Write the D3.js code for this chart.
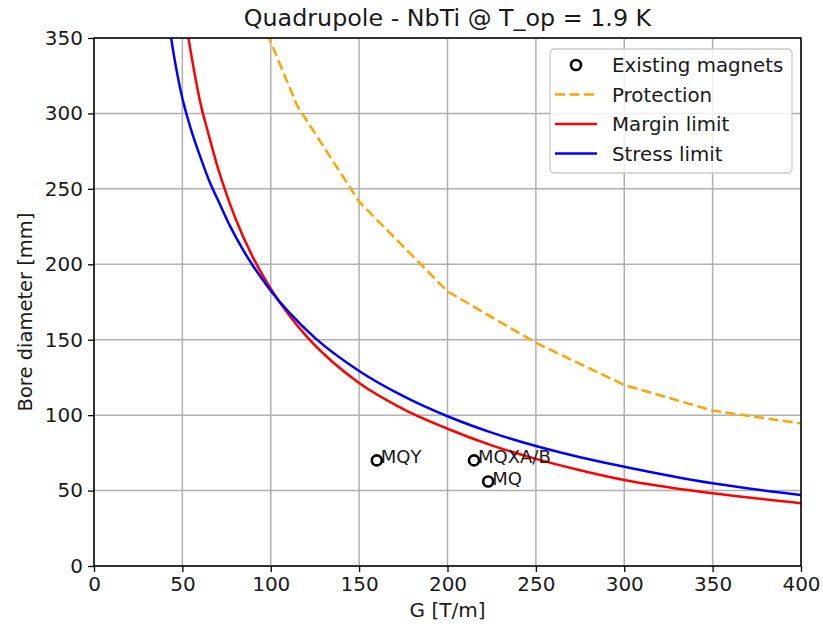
<!DOCTYPE html>
<html>
<head>
  <meta charset="utf-8">
  <style>
    * { margin: 0; padding: 0; box-sizing: border-box; }
    body { background: #fff; font-family: "DejaVu Sans", sans-serif; }
    svg { display: block; }
  </style>
</head>
<body>
  <div id="chart"></div>
  <script src="https://cdn.jsdelivr.net/npm/d3@7"></script>
  <script>
    // values
    const protectionG = [98, 115, 150, 200, 250, 300, 350, 400];
    const protectionD = [353, 305, 241.5, 182, 148, 120, 103, 94.5];

    const marginG = [50, 55, 60, 65, 70, 75, 80, 90, 100, 110, 120, 135, 150, 175, 200, 225, 250, 275, 300, 350, 400];
    const marginD = [374, 339, 308, 285.4, 264.3, 246.3, 230.5, 204.4, 183.8, 166.8, 152.5, 135.2, 121.3, 104, 91, 80, 71, 63.5, 57, 48.2, 41.6];

    const stressG = [42, 45, 50, 55, 60, 66, 70, 77, 85, 90, 100, 110, 125, 150, 175, 200, 225, 250, 275, 300, 350, 400];
    const stressD = [363, 340, 310, 289, 271.7, 253, 242.9, 225.3, 208.2, 198.9, 182.5, 168.6, 151.2, 129.3, 112.6, 99.25, 88.4, 79.5, 72.1, 65.8, 54.8, 47.1];

    const magnetNames = ['MQY', 'MQXA/B', 'MQ'];
    const magnetG = [160, 215, 223];
    const magnetD = [70, 70, 56];

    const xTicks = [0, 50, 100, 150, 200, 250, 300, 350, 400];
    const yTicks = [0, 50, 100, 150, 200, 250, 300, 350];
    const legendLabels = ['Existing magnets', 'Protection', 'Margin limit', 'Stress limit'];

    (function() {
      const width = 823, height = 630;
      const pLeft = 94, pRight = 801, pTop = 38, pBottom = 566;

      const x = d3.scaleLinear().domain([0, 400]).range([pLeft, pRight]);
      const y = d3.scaleLinear().domain([0, 350]).range([pBottom, pTop]);

      const svg = d3.select('#chart').append('svg')
        .attr('width', width).attr('height', height)
        .attr('font-family', 'DejaVu Sans, sans-serif');

      svg.append('defs').append('clipPath').attr('id', 'plot')
        .append('rect').attr('x', pLeft).attr('y', pTop)
        .attr('width', pRight - pLeft).attr('height', pBottom - pTop);

      // grid
      const grid = svg.append('g');
      xTicks.forEach(function(t) {
        grid.append('line').attr('x1', x(t)).attr('x2', x(t)).attr('y1', pTop).attr('y2', pBottom)
          .attr('stroke', '#b0b0b0').attr('stroke-width', 1.5);
      });
      yTicks.forEach(function(t) {
        grid.append('line').attr('x1', pLeft).attr('x2', pRight).attr('y1', y(t)).attr('y2', y(t))
          .attr('stroke', '#b0b0b0').attr('stroke-width', 1.5);
      });

      // axes
      const xAxis = svg.append('g').attr('transform', 'translate(0,' + pBottom + ')')
        .call(d3.axisBottom(x).tickValues(xTicks).tickSize(6).tickPadding(5).tickFormat(d3.format('d')));
      const yAxis = svg.append('g').attr('transform', 'translate(' + pLeft + ',0)')
        .call(d3.axisLeft(y).tickValues(yTicks).tickSize(6).tickPadding(5).tickFormat(d3.format('d')));
      [xAxis, yAxis].forEach(function(a) {
        a.select('.domain').remove();
        a.selectAll('.tick line').attr('stroke', '#000').attr('stroke-width', 1.3);
        a.selectAll('.tick text').attr('font-family', 'DejaVu Sans').attr('font-size', 20).attr('fill', '#1a1a1a');
      });

      // curves
      const lines = svg.append('g').attr('clip-path', 'url(#plot)');
      function curve(gs, ds, color, dash) {
        const pts = gs.map(function(g, i) { return [g, ds[i]]; });
        const p = lines.append('path').datum(pts)
          .attr('fill', 'none').attr('stroke', color).attr('stroke-width', 2.5)
          .attr('d', d3.line().x(function(d) { return x(d[0]); }).y(function(d) { return y(d[1]); })
            .curve(dash ? d3.curveLinear : d3.curveMonotoneX));
        if (dash) p.attr('stroke-dasharray', dash);
      }
      curve(protectionG, protectionD, '#ffa500', '10,4.5');
      curve(marginG, marginD, '#ff0000');
      curve(stressG, stressD, '#0000ff');

      // magnets
      const mags = svg.append('g');
      magnetNames.forEach(function(n, i) {
        mags.append('circle').attr('cx', x(magnetG[i])).attr('cy', y(magnetD[i])).attr('r', 5)
          .attr('fill', 'none').attr('stroke', '#000').attr('stroke-width', 2.6);
        mags.append('text').attr('x', x(magnetG[i]) + 4).attr('y', y(magnetD[i]) + 3)
          .attr('font-size', 18).attr('fill', '#1a1a1a').text(n);
      });

      // frame
      svg.append('rect').attr('x', pLeft).attr('y', pTop).attr('width', pRight - pLeft).attr('height', pBottom - pTop)
        .attr('fill', 'none').attr('stroke', '#000').attr('stroke-width', 1.5);

      // titles
      svg.append('text').attr('x', (pLeft + pRight) / 2).attr('y', 26).attr('text-anchor', 'middle')
        .attr('font-size', 23.8).attr('fill', '#1a1a1a').text('Quadrupole - NbTi @ T_op = 1.9 K');
      svg.append('text').attr('x', (pLeft + pRight) / 2).attr('y', 617).attr('text-anchor', 'middle')
        .attr('font-size', 20).attr('fill', '#1a1a1a').text('G [T/m]');
      svg.append('text').attr('transform', 'translate(32,' + ((pTop + pBottom) / 2 + 10) + ') rotate(-90)')
        .attr('text-anchor', 'middle').attr('font-size', 19.5).attr('fill', '#1a1a1a').text('Bore diameter [mm]');

      // legend
      const lg = svg.append('g');
      lg.append('rect').attr('x', 550).attr('y', 49).attr('width', 242).attr('height', 124).attr('rx', 4)
        .attr('fill', '#fff').attr('fill-opacity', 0.8).attr('stroke', '#cccccc').attr('stroke-width', 1.3);
      const rowY = [65, 94.5, 124, 153.5];
      lg.append('circle').attr('cx', 576).attr('cy', rowY[0]).attr('r', 5)
        .attr('fill', 'none').attr('stroke', '#000').attr('stroke-width', 2.6);
      const handleColors = [null, '#ffa500', '#ff0000', '#0000ff'];
      [1, 2, 3].forEach(function(i) {
        const l = lg.append('line').attr('x1', 555).attr('x2', 597).attr('y1', rowY[i]).attr('y2', rowY[i])
          .attr('stroke', handleColors[i]).attr('stroke-width', 2.5);
        if (i === 1) l.attr('stroke-dasharray', '10,4.5');
      });
      legendLabels.forEach(function(t, i) {
        lg.append('text').attr('x', 612).attr('y', rowY[i] + 7).attr('font-size', 19.8)
          .attr('fill', '#1a1a1a').text(t);
      });
    })();
  </script>
</body>
</html>
